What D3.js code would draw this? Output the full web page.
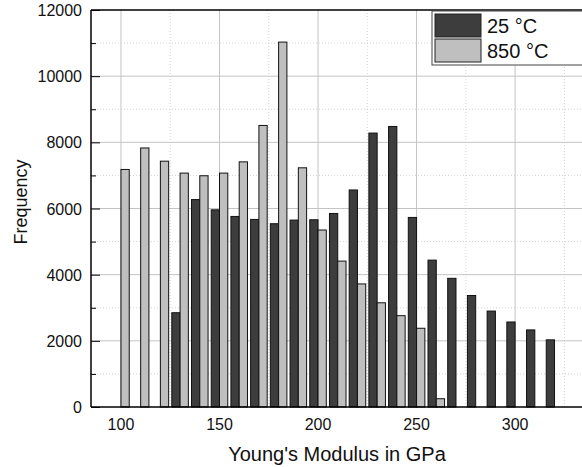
<!DOCTYPE html>
<html>
  <head>
    <script src="https://d3js.org/d3.v7.min.js"></script>
    <style>
      body { margin: 0; background: #fff; }
      text { font-family: "Liberation Sans", Arial, sans-serif; }
    </style>
  </head>
  <body>
    <svg id="chart" width="582" height="467"></svg>

  <script>
  // bin centres (GPa) and counts
  var binsCold = [130, 140, 150, 160, 170, 180, 190, 200, 210, 220, 230, 240, 250, 260, 270, 280, 290, 300, 310, 320];
  var countsCold = [2850, 6270, 5960, 5760, 5670, 5540, 5650, 5660, 5850, 6560, 8280, 8480, 5730, 4440, 3890, 3370, 2900, 2570, 2330, 2030];

  var binsHot = [100, 110, 120, 130, 140, 150, 160, 170, 180, 190, 200, 210, 220, 230, 240, 250, 260];
  var countsHot = [7180, 7830, 7430, 7070, 6990, 7070, 7410, 8510, 11030, 7230, 5350, 4410, 3720, 3150, 2760, 2380, 250];

  var xTicks = [100, 150, 200, 250, 300];
  var xMinor = [125, 175, 225, 275, 325];
  var yTicks = [0, 2000, 4000, 6000, 8000, 10000, 12000];
  var yMinor = [1000, 3000, 5000, 7000, 9000, 11000];

  var seriesNames = ["25 °C", "850 °C"];
  var seriesColors = ["#3d3d3d", "#bfbfbf"];

  var svg = d3.select("#chart");
  // plot box (window.top is read-only, so no bare "top" here)
  var pLeft = 91, pRight = 590, pTop = 10, pBottom = 407;
  var barW = 4.2;

  var x = d3.scaleLinear().domain([84.8, 338]).range([pLeft, pRight]);
  var y = d3.scaleLinear().domain([0, 12000]).range([pBottom, pTop]);

  // grid
  var grid = svg.append("g");
  grid.selectAll(".vmin").data(xMinor).enter().append("line")
      .attr("x1", d => x(d)).attr("x2", d => x(d)).attr("y1", pTop).attr("y2", pBottom)
      .attr("stroke", "#d4d4d4").attr("stroke-dasharray", "1,2");
  grid.selectAll(".hmin").data(yMinor).enter().append("line")
      .attr("x1", pLeft).attr("x2", pRight).attr("y1", d => y(d)).attr("y2", d => y(d))
      .attr("stroke", "#d4d4d4").attr("stroke-dasharray", "1,2");
  grid.selectAll(".vmaj").data(xTicks).enter().append("line")
      .attr("x1", d => x(d)).attr("x2", d => x(d)).attr("y1", pTop).attr("y2", pBottom)
      .attr("stroke", "#c4c4c4");
  grid.selectAll(".hmaj").data(yTicks.slice(1, -1)).enter().append("line")
      .attr("x1", pLeft).attr("x2", pRight).attr("y1", d => y(d)).attr("y2", d => y(d))
      .attr("stroke", "#c4c4c4");

  // bars: 25 °C sits left of the bin edge, 850 °C right of it
  svg.append("g").selectAll("rect").data(binsCold).enter().append("rect")
      .attr("x", d => x(d - barW)).attr("width", d => x(d) - x(d - barW))
      .attr("y", (d, i) => y(countsCold[i])).attr("height", (d, i) => pBottom - y(countsCold[i]))
      .attr("fill", seriesColors[0]).attr("stroke", "#111").attr("stroke-width", 1);
  svg.append("g").selectAll("rect").data(binsHot).enter().append("rect")
      .attr("x", d => x(d)).attr("width", d => x(d + barW) - x(d))
      .attr("y", (d, i) => y(countsHot[i])).attr("height", (d, i) => pBottom - y(countsHot[i]))
      .attr("fill", seriesColors[1]).attr("stroke", "#111").attr("stroke-width", 1);

  // frame
  svg.append("line").attr("x1", pLeft).attr("x2", pRight).attr("y1", pTop).attr("y2", pTop)
      .attr("stroke", "#000").attr("stroke-width", 1.5);

  // axes
  var yAxis = svg.append("g").attr("transform", "translate(" + pLeft + ",0)")
      .call(d3.axisRight(y).tickValues(yTicks).tickSize(9).tickFormat(""));
  yAxis.select(".domain").attr("stroke-width", 1.5).attr("d", "M0," + pTop + "V" + pBottom);
  svg.append("g").attr("transform", "translate(" + pLeft + ",0)")
      .call(d3.axisRight(y).tickValues(yMinor).tickSize(5).tickFormat(""))
      .select(".domain").remove();
  svg.append("g").selectAll("text").data(yTicks).enter().append("text")
      .attr("x", 82).attr("y", d => y(d) + 6).attr("text-anchor", "end")
      .attr("font-size", 16).attr("fill", "#111").text(d => d);

  var xAxis = svg.append("g").attr("transform", "translate(0," + pBottom + ")")
      .call(d3.axisTop(x).tickValues(xTicks).tickSize(0).tickFormat(""));
  xAxis.select(".domain").attr("stroke-width", 1.5).attr("d", "M" + pLeft + ",0H" + pRight);
  svg.append("g").selectAll("text").data(xTicks).enter().append("text")
      .attr("x", d => x(d)).attr("y", 430).attr("text-anchor", "middle")
      .attr("font-size", 16).attr("fill", "#111").text(d => d);

  // titles
  svg.append("text").attr("x", 337).attr("y", 461).attr("text-anchor", "middle")
      .attr("font-size", 20).attr("fill", "#111").text("Young's Modulus in GPa");
  svg.append("text").attr("transform", "translate(27,202) rotate(-90)").attr("text-anchor", "middle")
      .attr("font-size", 18).attr("fill", "#111").text("Frequency");

  // legend
  var legend = svg.append("g");
  legend.append("rect").attr("x", 432).attr("y", 11).attr("width", 170).attr("height", 54)
      .attr("fill", "#fff").attr("stroke", "#444");
  seriesNames.forEach(function(name, i) {
    legend.append("rect").attr("x", 435).attr("y", 14 + i * 25).attr("width", 46).attr("height", 23)
        .attr("fill", seriesColors[i]).attr("stroke", "#222");
    legend.append("text").attr("x", 487).attr("y", 33 + i * 25)
        .attr("font-size", 20).attr("fill", "#111").text(name);
  });
  </script>
  </body>
</html>
